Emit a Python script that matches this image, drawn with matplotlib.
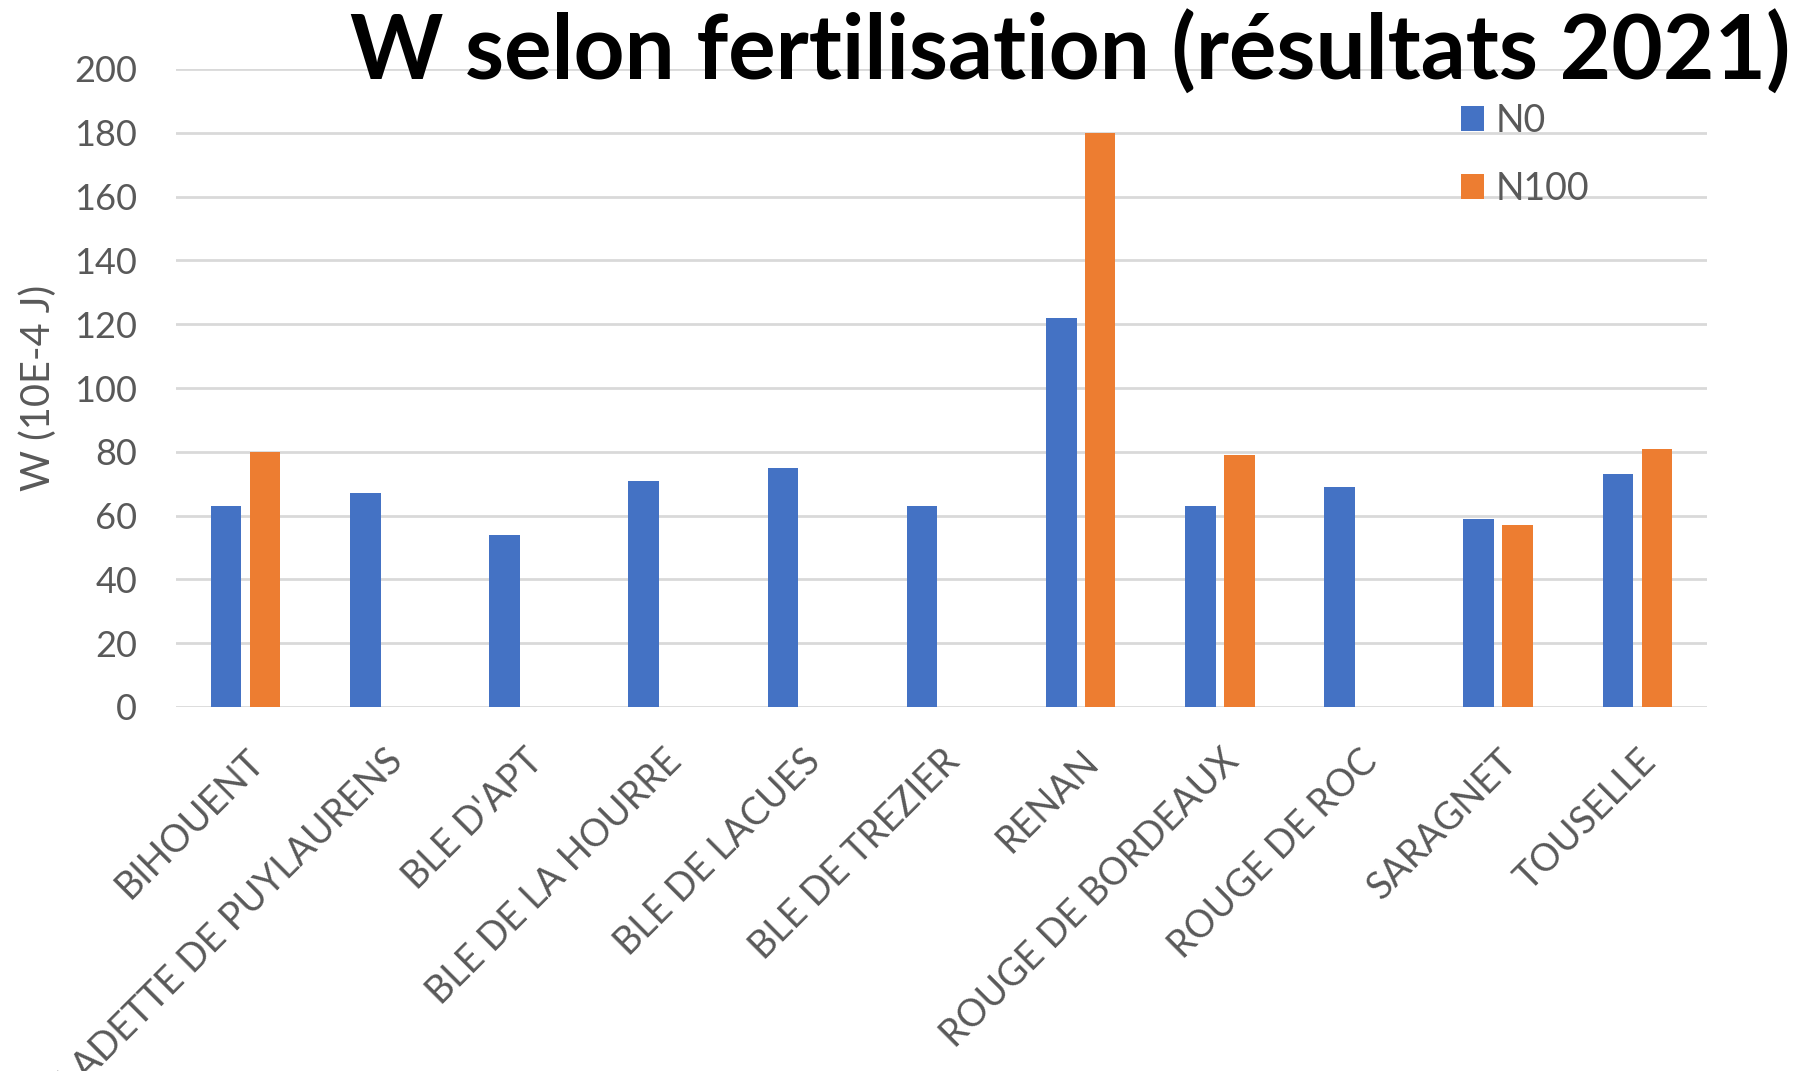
import numpy as np
import matplotlib.pyplot as plt

# Données
varietes = ['BIHOUENT', 'BLADETTE DE PUYLAURENS', "BLE D'APT", 'BLE DE LA HOURRE',
            'BLE DE LACUES', 'BLE DE TREZIER', 'RENAN', 'ROUGE DE BORDEAUX',
            'ROUGE DE ROC', 'SARAGNET', 'TOUSELLE']
w_n0 = [63, 67, 54, 71, 75, 63, 122, 63, 69, 59, 73]
w_n100 = [80, np.nan, np.nan, np.nan, np.nan, np.nan, 180, 79, np.nan, 57, 81]

bleu = '#4472C4'
orange = '#ED7D31'
gris = '#595959'

plt.rcParams['font.family'] = ['Lato', 'DejaVu Sans']

fig = plt.figure(figsize=(18, 10.71), dpi=100)
ax = fig.add_axes([176/1800, 1 - 707/1071, (1707 - 176)/1800, (707 - 69)/1071])

x = np.arange(len(varietes))
width = 0.22
ax.bar(x - 0.14, w_n0, width, color=bleu, label='N0', zorder=3)
n100 = np.array(w_n100, dtype=float)
ok = ~np.isnan(n100)
ax.bar(x[ok] + 0.14, n100[ok], width, color=orange, label='N100', zorder=3)

ax.set_xlim(-0.5, len(varietes) - 0.5)
ax.set_ylim(0, 200)
ax.set_yticks(np.arange(0, 201, 20))
ax.grid(axis='y', color='#D9D9D9', linewidth=2, zorder=0)
for s in ax.spines.values():
    s.set_visible(False)
ax.tick_params(axis='both', length=0, labelsize=26, labelcolor=gris)
ax.tick_params(axis='y', pad=28)
ax.tick_params(axis='x', pad=26, labelsize=27)
ax.set_xticks(x)
ax.set_xticklabels(varietes, rotation=45, ha='right', va='top', rotation_mode='anchor')

ax.set_ylabel('W (10E-4 J)', fontsize=28.5, color=gris, labelpad=12)

# Titre ajusté en largeur
titre = fig.text(1070/1800, 1 - 80/1071, 'W selon fertilisation (résultats 2021)',
                 fontsize=64, fontweight='bold', color='black', ha='center', va='baseline')
fig.canvas.draw()
larg = titre.get_window_extent().width
titre.set_fontsize(64 * 1440 / larg)

fig.legend(loc='upper left', bbox_to_anchor=(1442/1800, 1 - 84/1071), frameon=False,
           fontsize=27, labelcolor=gris, borderpad=0, handlelength=0.62, handleheight=0.62,
           handletextpad=0.3, labelspacing=0.85)

fig.savefig('out.png', dpi=100)
